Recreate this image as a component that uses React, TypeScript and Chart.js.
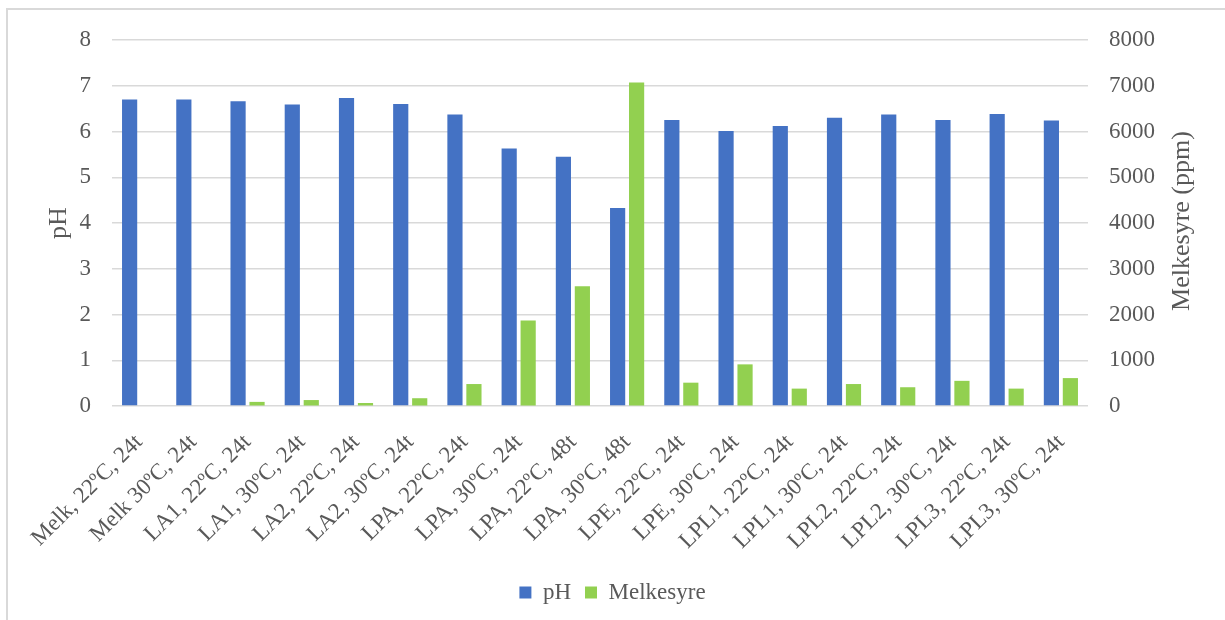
import React, { useEffect, useRef } from "react";
import { Chart, registerables } from "chart.js";

Chart.register(...registerables);

const categories = [
  "Melk, 22ºC, 24t",
  "Melk 30ºC, 24t",
  "LA1, 22ºC, 24t",
  "LA1, 30ºC, 24t",
  "LA2, 22ºC, 24t",
  "LA2, 30ºC, 24t",
  "LPA, 22ºC, 24t",
  "LPA, 30ºC, 24t",
  "LPA, 22ºC, 48t",
  "LPA, 30ºC, 48t",
  "LPE, 22ºC, 24t",
  "LPE, 30ºC, 24t",
  "LPL1, 22ºC, 24t",
  "LPL1, 30ºC, 24t",
  "LPL2, 22ºC, 24t",
  "LPL2, 30ºC, 24t",
  "LPL3, 22ºC, 24t",
  "LPL3, 30ºC, 24t",
];

const phValues = [6.7, 6.7, 6.66, 6.59, 6.73, 6.6, 6.37, 5.63, 5.45, 4.33, 6.25, 6.01, 6.12, 6.3, 6.37, 6.25, 6.38, 6.24];
const melkesyreValues = [0, 0, 90, 130, 65, 170, 480, 1870, 2620, 7070, 510, 910, 380, 480, 410, 550, 380, 610];

const phAxisMax = 8;
const melkAxisMax = 8000;
const rightAxisTitle = "Melkesyre (ppm)";

const FONT = "'Liberation Serif', 'Times New Roman', serif";
const TEXT = "#595959";

const rightTitlePlugin = {
  id: "rightTitle",
  afterDraw(chart: any) {
    const { ctx, chartArea } = chart;
    ctx.save();
    ctx.fillStyle = TEXT;
    ctx.font = `26px ${FONT}`;
    ctx.textAlign = "center";
    ctx.textBaseline = "middle";
    ctx.translate(1182, (chartArea.top + chartArea.bottom) / 2 - 2);
    ctx.rotate(-Math.PI / 2);
    ctx.fillText(rightAxisTitle, 0, 0);
    ctx.restore();
  },
};

export default function App() {
  const ref = useRef<HTMLCanvasElement | null>(null);

  useEffect(() => {
    const canvas = ref.current;
    if (!canvas) return;
    const chart = new Chart(canvas, {
      type: "bar",
      data: {
        labels: categories,
        datasets: [
          {
            label: "pH",
            data: phValues,
            backgroundColor: "#4472C4",
            yAxisID: "y",
            barPercentage: 0.8,
            categoryPercentage: 0.7,
          },
          {
            label: "Melkesyre",
            data: melkesyreValues,
            backgroundColor: "#92D050",
            yAxisID: "y1",
            barPercentage: 0.8,
            categoryPercentage: 0.7,
          },
        ],
      },
      options: {
        responsive: false,
        animation: false,
        layout: { padding: { top: 40, left: 0, right: 0, bottom: 6 } },
        plugins: {
          legend: {
            position: "bottom",
            labels: {
              boxWidth: 12,
              boxHeight: 12,
              padding: 14,
              color: TEXT,
              font: { family: FONT, size: 23 },
            },
          },
          tooltip: { enabled: false },
        },
        scales: {
          x: {
            grid: { display: false, drawTicks: false },
            border: { display: false },
            ticks: {
              color: TEXT,
              font: { family: FONT, size: 23 },
              minRotation: 45,
              maxRotation: 45,
              autoSkip: false,
              padding: 23,
              labelOffset: 0,
            },
            afterFit: (s: any) => {
              s.height = 161;
            },
          },
          y: {
            position: "left",
            min: 0,
            max: phAxisMax,
            ticks: {
              stepSize: 1,
              color: TEXT,
              font: { family: FONT, size: 23 },
              padding: 21,
            },
            grid: { color: "#d9d9d9", lineWidth: 1.5, drawTicks: false },
            border: { display: false },
            title: {
              display: true,
              text: "pH",
              color: TEXT,
              font: { family: FONT, size: 26 },
              padding: { top: 44, bottom: 0 },
            },
            afterFit: (s: any) => {
              s.width = 112;
            },
          },
          y1: {
            position: "right",
            min: 0,
            max: melkAxisMax,
            ticks: {
              stepSize: 1000,
              color: TEXT,
              font: { family: FONT, size: 23 },
              padding: 21,
              callback: (v: any) => String(v),
            },
            grid: { drawOnChartArea: false, drawTicks: false },
            border: { display: false },
            title: { display: false },
            afterFit: (s: any) => {
              s.width = 137;
            },
          },
        },
      },
      plugins: [rightTitlePlugin],
    });
    return () => chart.destroy();
  }, []);

  return (
    <div style={{ position: "absolute", left: 0, top: 0, width: 1225, height: 620, background: "#fff", overflow: "hidden" }}>
      <div
        style={{
          position: "absolute",
          left: 6,
          top: 8,
          width: 1240,
          height: 640,
          border: "2px solid #d9d9d9",
          boxSizing: "border-box",
        }}
      />
      <canvas ref={ref} width={1225} height={620} style={{ position: "absolute", left: 0, top: 0, width: 1225, height: 620 }} />
    </div>
  );
}
